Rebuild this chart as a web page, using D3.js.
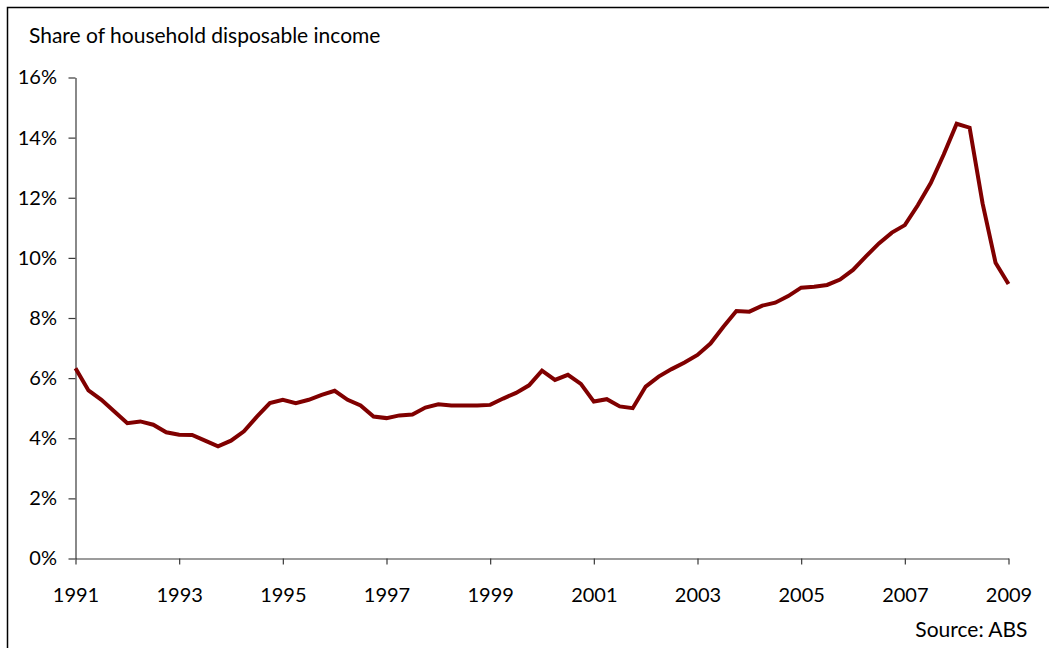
<!DOCTYPE html>
<html><head><meta charset="utf-8">
<script src="https://cdn.jsdelivr.net/npm/d3@7"></script>
<style>body{margin:0;background:#fff}svg{display:block}text{font-family:Lato,"Open Sans",sans-serif;fill:#000}</style>
</head><body>
<svg id="c" width="1049" height="648"></svg>
<script>
// Quarterly, 1991 Q1 .. 2009 Q1
const startYear = 1991;
const shareValues = [
 6.33,5.59,5.28,4.89,
 4.50,4.56,4.45,4.20,
 4.12,4.11,3.92,3.73,
 3.92,4.23,4.72,5.17,
 5.28,5.17,5.28,5.44,
 5.58,5.28,5.09,4.72,
 4.67,4.76,4.79,5.02,
 5.13,5.09,5.09,5.09,
 5.11,5.32,5.51,5.76,
 6.25,5.94,6.11,5.81,
 5.22,5.30,5.06,5.00,
 5.72,6.05,6.30,6.52,
 6.77,7.15,7.71,8.23,
 8.21,8.41,8.51,8.73,
 9.01,9.04,9.10,9.28,
 9.60,10.05,10.48,10.84,
 11.09,11.75,12.49,13.44,
 14.46,14.33,11.81,9.84,
 9.13
];
const yTicks = [0,2,4,6,8,10,12,14,16];
const xTickYears = [1991,1993,1995,1997,1999,2001,2003,2005,2007,2009];
const titleText = "Share of household disposable income";
const sourceText = "Source: ABS";

const svg = d3.select("#c");
const x = d3.scaleLinear().domain([1991,2009]).range([75.5,1008.5]);
const y = d3.scaleLinear().domain([0,16]).range([558.5,77.5]);

// frame
svg.append("path").attr("d","M7.5,648 L7.5,7.5 L1049,7.5").attr("fill","none").attr("stroke","#000").attr("stroke-width",1.5);

const yAxis = svg.append("g").attr("transform","translate(75.5,0)")
  .call(d3.axisLeft(y).tickValues(yTicks).tickFormat(d=>d+"%").tickSize(7).tickSizeOuter(0));
const xAxis = svg.append("g").attr("transform","translate(0,558.5)")
  .call(d3.axisBottom(x).tickValues(xTickYears).tickFormat(d3.format("d")).tickSize(6).tickSizeOuter(0));
[yAxis,xAxis].forEach(g=>{
  g.select(".domain").attr("stroke","#3a3a3a").attr("stroke-width",1.2);
  g.selectAll(".tick line").attr("stroke","#3a3a3a").attr("stroke-width",1.2);
  g.selectAll(".tick text").attr("font-family","Lato, sans-serif").attr("font-size",20).attr("fill","#000");
});
yAxis.selectAll(".tick text").attr("x",-18.5);
xAxis.selectAll(".tick text").attr("dy",null).attr("y",43);

const line = d3.line().x((d,i)=>x(startYear+i/4)).y(d=>y(d));
svg.append("path").datum(shareValues).attr("d",line)
  .attr("fill","none").attr("stroke","#800000").attr("stroke-width",4).attr("stroke-linejoin","miter");

svg.append("text").attr("x",29).attr("y",43).attr("font-size",21).text(titleText);
svg.append("text").attr("x",1027.5).attr("y",637).attr("text-anchor","end").attr("font-size",21).text(sourceText);
</script>
</body></html>
